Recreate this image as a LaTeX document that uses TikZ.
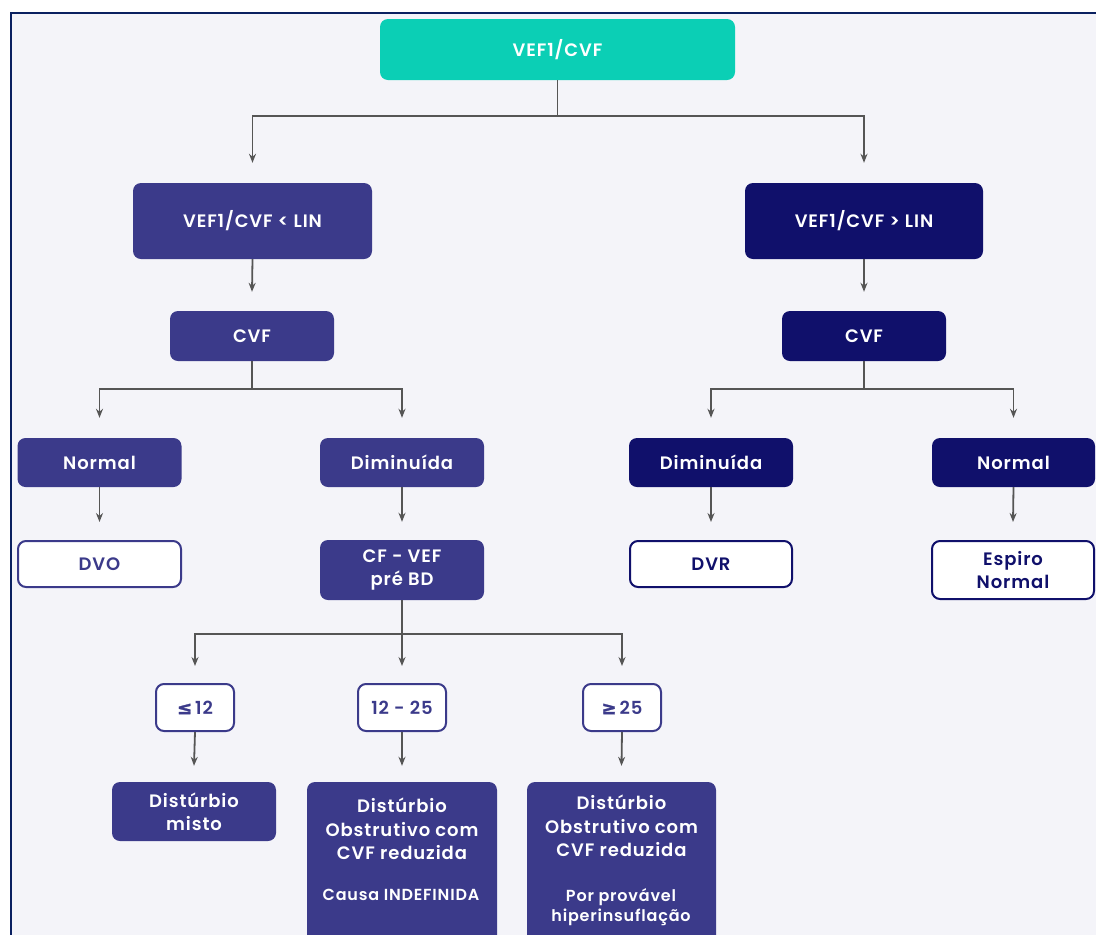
\documentclass[tikz,border=0pt]{standalone}
\usepackage{fontspec}
\setmainfont{Poppins}[BoldFont={Poppins SemiBold}, LetterSpace=5]
\newfontfamily\symf{DejaVu Sans}[FakeBold=1.5]
\usetikzlibrary{arrows.meta,calc}
\definecolor{tealbox}{HTML}{0BCFB5}
\definecolor{indbox}{HTML}{3B3A8A}
\definecolor{navbox}{HTML}{10106B}
\definecolor{bgc}{HTML}{F4F4F9}
\definecolor{framec}{HTML}{0A2060}
\definecolor{arrc}{HTML}{555555}
\tikzset{
  base/.style={rounded corners=8pt, inner sep=0pt, align=center, font=\fontsize{18}{23}\selectfont\bfseries},
  tealfill/.style={base, fill=tealbox, text=white},
  indfill/.style={base, fill=indbox, text=white},
  navfill/.style={base, fill=navbox, text=white},
  indline/.style={base, fill=white, draw=indbox, line width=2pt, text=indbox},
  navline/.style={base, fill=white, draw=navbox, line width=2pt, text=navbox},
  arr/.style={draw=arrc, line width=1.8pt, -{Stealth[length=9pt,width=7pt]}},
  sz/.style 2 args={minimum width=#1pt, minimum height=#2pt},
  txt/.style={inner sep=0pt, align=center, text=white, font=\fontsize{18}{23.5}\selectfont\bfseries},
  stxt/.style={inner sep=0pt, align=center, text=white, font=\fontsize{16}{20}\selectfont\bfseries}
}
\begin{document}
\begin{tikzpicture}[x=1pt,y=-1pt]
\useasboundingbox (0,0) rectangle (1096,935);
\clip (0,0) rectangle (1096,935);
\fill[white] (0,0) rectangle (1096,935);
\draw[fill=bgc, draw=framec, line width=2.2pt] (11,13) rectangle (1120,960);

% level 0
\node[tealfill, sz={355}{61}] (top) at (557.5,49.5) {VEF1/CVF};
% level 1
\node[indfill, sz={239}{76}] (lin1) at (252.5,221) {VEF1/CVF < LIN};
\node[navfill, sz={238}{76}] (lin2) at (864,221) {VEF1/CVF > LIN};
% level 2
\node[indfill, sz={164}{50}] (cvf1) at (252,336) {CVF};
\node[navfill, sz={164}{50}] (cvf2) at (864,336) {CVF};
% level 3
\node[indfill, sz={164}{49}] (norm1) at (99.5,462.5) {Normal};
\node[indfill, sz={164}{49}] (dim1) at (402,462.5) {Diminuída};
\node[navfill, sz={164}{49}] (dim2) at (711,462.5) {Diminuída};
\node[navfill, sz={163}{49}] (norm2) at (1013.5,462.5) {Normal};
% level 4
\node[indline, sz={163}{46}] (dvo) at (99.5,564) {DVO};
\node[indfill, sz={164}{60}] (cf) at (402,570) {CF - VEF\\pré BD};
\node[navline, sz={162}{46}] (dvr) at (711,564) {DVR};
\node[navline, sz={162}{58}] (esp) at (1013,570) {Espiro\\Normal};
% level 5
\node[indline, sz={78}{47}] (le) at (195,707.5) {{\symf ≤}\,12};
\node[indline, sz={88}{47}] (mid) at (402,707.5) {12 - 25};
\node[indline, sz={78}{47}] (ge) at (622,707.5) {{\symf ≥}\,25};
% level 6
\node[indfill, sz={164}{59}] (misto) at (194,811.5) {Distúrbio\\misto};
\node[indfill, sz={190}{180}] (obs1) at (402,872) {};
\node[indfill, sz={189}{180}] (obs2) at (621.5,872) {};
\node[txt, anchor=north] (obs1t) at ([yshift=-16pt]obs1.north) {Distúrbio\\Obstrutivo com\\CVF reduzida};
\node[stxt] (obs1c) at (401,895) {Causa INDEFINIDA};
\node[txt, anchor=north] (obs2t) at ([yshift=-13pt]obs2.north) {Distúrbio\\Obstrutivo com\\CVF reduzida};
\node[stxt] (obs2c) at (621,907) {Por provável\\hiperinsuflação};

% connectors
\draw[arr] (top.south) -- ++(0,36) -| ([yshift=20pt]lin1.north);
\draw[arr] (top.south) -- ++(0,36) -| ([yshift=20pt]lin2.north);
\draw[arr] (lin1.south) -- ([yshift=19pt]cvf1.north);
\draw[arr] (lin2.south) -- ([yshift=19pt]cvf2.north);
\draw[arr] (cvf1.south) -- ++(0,28) -| ([yshift=20pt]norm1.north);
\draw[arr] (cvf1.south) -- ++(0,28) -| ([yshift=20pt]dim1.north);
\draw[arr] (cvf2.south) -- ++(0,28) -| ([yshift=20pt]dim2.north);
\draw[arr] (cvf2.south) -- ++(0,28) -| ([yshift=20pt]norm2.north);
\draw[arr] (norm1.south) -- ([yshift=18pt]dvo.north);
\draw[arr] (dim1.south) -- ([yshift=18pt]cf.north);
\draw[arr] (dim2.south) -- ([yshift=18pt]dvr.north);
\draw[arr] (norm2.south) -- ([yshift=18pt]esp.north);
\draw[arr] (cf.south) -- ++(0,34) -| ([yshift=17pt]le.north);
\draw[arr] (cf.south) -- ++(0,34) -| ([yshift=17pt]mid.north);
\draw[arr] (cf.south) -- ++(0,34) -| ([yshift=17pt]ge.north);
\draw[arr] (le.south) -- ([yshift=16pt]misto.north);
\draw[arr] (mid.south) -- ([yshift=16pt]obs1.north);
\draw[arr] (ge.south) -- ([yshift=16pt]obs2.north);
\end{tikzpicture}
\end{document}
